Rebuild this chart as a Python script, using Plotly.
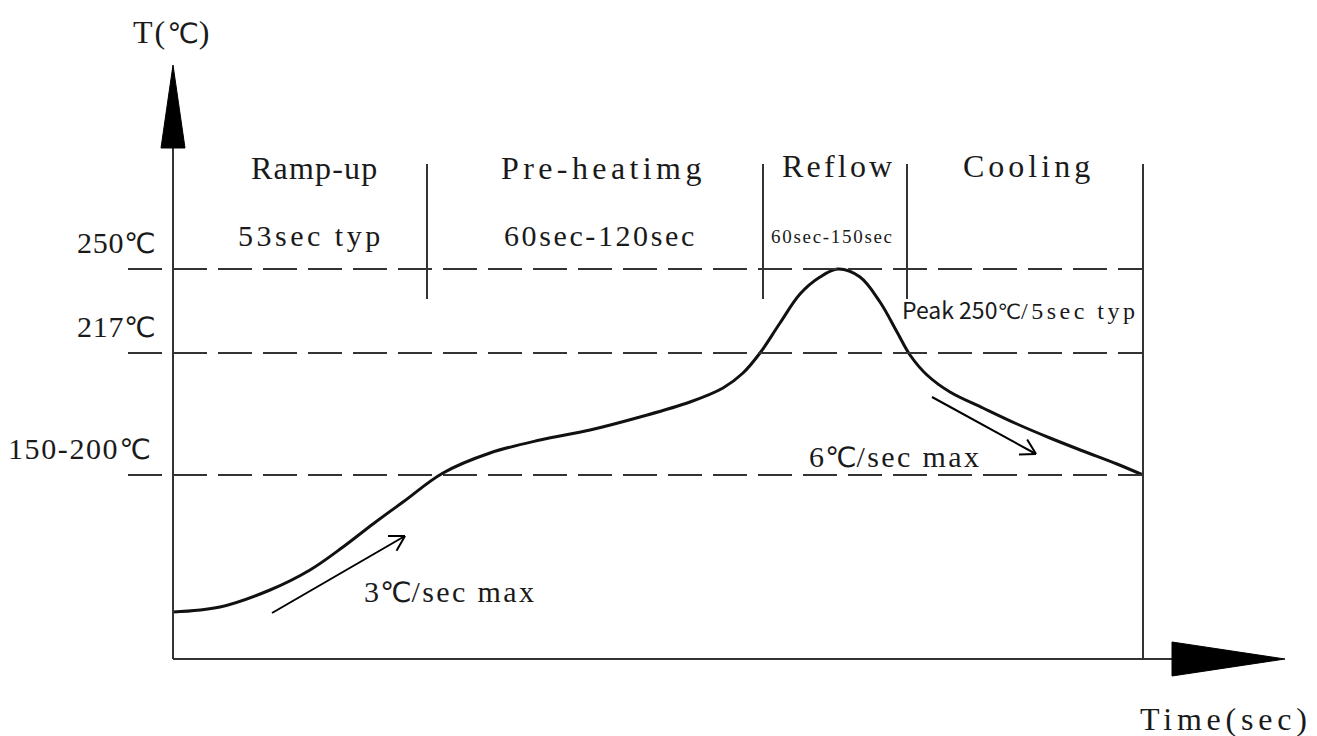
import math
import plotly.graph_objects as go

# ---- data (diagram units: x = time position, y = temperature position; axis origin at 0,0) ----
profile_x = [0, 47, 97, 137, 170, 200, 230, 270, 317, 367, 417, 467, 517, 550, 570, 587, 607, 627,
             647, 665, 687, 707, 724, 737, 754, 777, 810, 844, 877, 910, 944, 970]
profile_y = [47, 52, 69, 89, 112, 135, 157, 186, 206, 219, 229, 242, 257, 271, 286, 306, 336, 365,
             382, 390, 382, 357, 327, 304, 284, 267, 251, 235, 221, 208, 195, 184]

level_labels = ["250", "217", "150-200"]
level_y = [390, 306, 184]
level_x_start = -45
profile_end_x = 970

phase_names = ["Ramp-up", "Pre-heatimg", "Reflow", "Cooling"]
phase_times = ["53sec typ", "60sec-120sec", "60sec-150sec", ""]
phase_bounds = [254, 590, 734, 970]
phase_top = 495
phase_bottom = 360

ramp_arrow = [(99, 46), (232, 123)]
cool_arrow = [(759, 262), (863, 205)]

x_axis_end = 999
x_arrow_tip = 1112
y_axis_end = 511
y_arrow_tip = 594

SERIF = "Liberation Serif"
CJK = "Noto Sans CJK SC"
DEG = "DejaVu Sans"
INK = "#1a1a1a"

fig = go.Figure()

# profile curve
fig.add_trace(go.Scatter(x=profile_x, y=profile_y, mode="lines",
                         line=dict(color="#111111", width=3, shape="spline", smoothing=1.0),
                         hoverinfo="skip"))

shapes = []
# axes
shapes.append(dict(type="line", xref="x", yref="y", x0=0, y0=0, x1=x_axis_end, y1=0,
                   line=dict(color="#333333", width=2)))
shapes.append(dict(type="line", xref="x", yref="y", x0=0, y0=0, x1=0, y1=y_axis_end,
                   line=dict(color="#333333", width=2)))
# arrow triangles
shapes.append(dict(type="path", xref="x", yref="y",
                   path=f"M {x_axis_end},{-17} L {x_arrow_tip},0 L {x_axis_end},{17} Z",
                   fillcolor="#000000", line=dict(color="#000000", width=1)))
shapes.append(dict(type="path", xref="x", yref="y",
                   path=f"M {-12},{y_axis_end} L 0,{y_arrow_tip} L 12,{y_axis_end} Z",
                   fillcolor="#000000", line=dict(color="#000000", width=1)))
# dashed level lines
for ly in level_y:
    shapes.append(dict(type="line", xref="x", yref="y", x0=level_x_start, y0=ly, x1=profile_end_x, y1=ly,
                       line=dict(color="#333333", width=2, dash="34px,11px")))
# phase separators
for i, bx in enumerate(phase_bounds):
    y0 = 0 if i == len(phase_bounds) - 1 else phase_bottom
    shapes.append(dict(type="line", xref="x", yref="y", x0=bx, y0=y0, x1=bx, y1=phase_top,
                       line=dict(color="#333333", width=2)))

# slope arrows with open heads
def arrow(p0, p1):
    (x0, y0), (x1, y1) = p0, p1
    ang = math.atan2(y1 - y0, x1 - x0)
    L = 17
    xs = [x0, x1, None]
    ys = [y0, y1, None]
    for d in (math.radians(150), math.radians(-150)):
        xs += [x1, x1 + L * math.cos(ang + d), None]
        ys += [y1, y1 + L * math.sin(ang + d), None]
    fig.add_trace(go.Scatter(x=xs, y=ys, mode="lines", line=dict(color="#000000", width=2),
                             hoverinfo="skip"))

arrow(*ramp_arrow)
arrow(*cool_arrow)

def serif(t, size, ls=0):
    return f'<span style="font-family:{SERIF};font-size:{size}px;letter-spacing:{ls}px">{t}</span>'

def degc(size, fam=DEG):
    return f'<span style="font-family:{fam};font-size:{size}px">℃</span>'

ann = []
def add(text, x, y, xa="center", size=30):
    ann.append(dict(text=text, x=x, y=y, xref="x", yref="y", xanchor=xa, yanchor="middle",
                    showarrow=False, font=dict(family=SERIF, size=size, color=INK)))

# axis titles
add(serif("T(", 32, 2) + degc(28) + serif(")", 32), -2, 627)
add(serif("Time(sec)", 32, 4.8), 1053, -60)

# phase names and durations
name_x = [142, 430, 665, 855]
name_ls = [1.2, 4.4, 3.2, 4.0]
for n, nx, ls in zip(phase_names, name_x, name_ls):
    add(serif(n, 32, ls), nx, 491 if n in ("Ramp-up", "Pre-heatimg") else 493)
time_x = [138, 427, 659]
time_size = [30, 30, 19]
time_ls = [3.5, 2.6, 1.7]
for t, tx, s, ls in zip(phase_times[:3], time_x, time_size, time_ls):
    add(serif(t, s, ls), tx, 424 if s == 30 else 423)

# level labels
label_right = [-15, -15, -20]
label_ls = [0.7, 0.7, 1.6]
for lab, ly, lx, ls in zip(level_labels, level_y, label_right, label_ls):
    add(serif(lab, 30, ls) + degc(28), lx, ly + 26, xa="right")

# notes
add(f'<span style="font-family:{CJK};font-size:23px">Peak 250</span>' + degc(21)
    + serif("/5sec typ", 24, 3.5), 727, 350, xa="left")
add(serif("6", 30, 1) + degc(28) + serif("/sec max", 30, 2.4), 634, 202, xa="left")
add(serif("3", 30, 1) + degc(28) + serif("/sec max", 30, 2.4), 189, 67, xa="left")

# page body has an 8px margin: figure spans page px 8..1317 / 8..736
fig.update_layout(
    width=1309, height=728,
    margin=dict(l=0, r=0, t=0, b=0),
    paper_bgcolor="white", plot_bgcolor="white",
    showlegend=False,
    shapes=shapes, annotations=ann,
    xaxis=dict(range=[-165, 1144], visible=False, fixedrange=True),
    yaxis=dict(range=[-77, 651], visible=False, fixedrange=True),
)

fig.write_html("out.html")
